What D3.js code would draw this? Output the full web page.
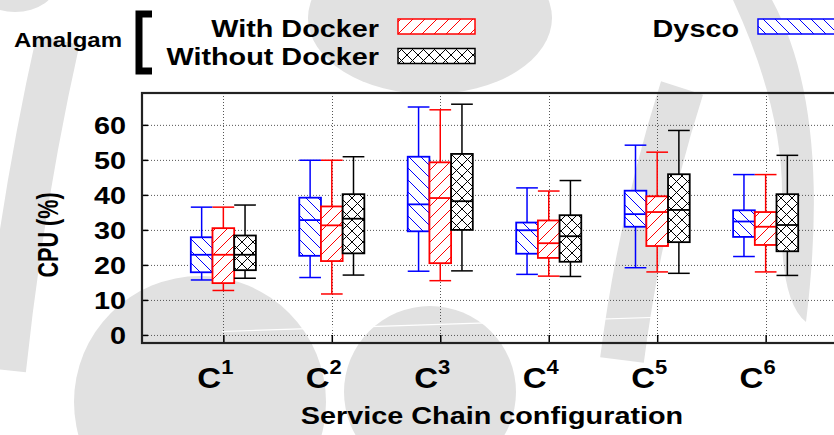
<!DOCTYPE html>
<html>
<head>
<meta charset="utf-8">
<script src="https://cdn.jsdelivr.net/npm/d3@7"></script>
<style>
  body { margin: 0; background: #fff; }
  text { font-family: "Liberation Sans", Arial, sans-serif; font-weight: bold; fill: #000; }
</style>
</head>
<body>
<div class="chart"></div>
<script>
// chart data
var configs = ["1", "2", "3", "4", "5", "6"];
var yTicks = [0, 10, 20, 30, 40, 50, 60];

// [min, q1, median, q3, max] for each configuration
var dyscoStats = [
  [15.7, 17.9, 22.9, 27.9, 36.5],
  [16.4, 22.6, 32.8, 39.2, 49.9],
  [18.2, 29.6, 37.3, 50.9, 65.1],
  [17.3, 23.2, 29.9, 32.1, 42.0],
  [19.2, 30.9, 34.5, 41.2, 54.2],
  [22.4, 28.0, 32.4, 35.6, 45.8]
];
var withDockerStats = [
  [12.7, 14.8, 22.9, 30.5, 36.5],
  [11.7, 21.1, 31.3, 36.7, 49.9],
  [15.5, 20.5, 39.1, 49.3, 64.3],
  [16.8, 22.0, 26.2, 32.7, 41.1],
  [18.0, 25.4, 35.1, 39.6, 52.2],
  [18.0, 25.7, 30.9, 35.1, 45.8]
];
var withoutDockerStats = [
  [16.2, 18.5, 22.9, 28.4, 37.1],
  [17.1, 23.3, 33.2, 40.2, 50.9],
  [18.3, 30.0, 38.2, 51.7, 65.9],
  [16.7, 20.9, 28.2, 34.2, 44.1],
  [17.6, 26.5, 35.7, 45.9, 58.4],
  [17.0, 23.9, 31.4, 40.2, 51.3]
];

var svgWidth = 834;
var svgHeight = 435;

// plot frame (right edge runs past the picture)
var plot = { left: 142, top: 93, right: 847, bottom: 343 };

var svg = d3.select(".chart")
  .append("svg")
    .attr("width", svgWidth)
    .attr("height", svgHeight);

// hatch patterns
var defs = svg.append("defs");

function hatch(id, color, kind, size) {
  var p = defs.append("pattern")
    .attr("id", id)
    .attr("patternUnits", "userSpaceOnUse")
    .attr("width", size)
    .attr("height", size);
  p.append("rect").attr("width", size).attr("height", size).attr("fill", "#fff");
  var s = size;
  var d = "";
  if (kind === "back" || kind === "cross") {
    d += "M0,0L" + s + "," + s + "M" + (-s / 2) + "," + (s / 2) + "L" + (s / 2) + "," + (s * 1.5) +
         "M" + (s / 2) + "," + (-s / 2) + "L" + (s * 1.5) + "," + (s / 2);
  }
  if (kind === "fwd" || kind === "cross") {
    d += "M0," + s + "L" + s + ",0M" + (-s / 2) + "," + (s / 2) + "L" + (s / 2) + "," + (-s / 2) +
         "M" + (s / 2) + "," + (s * 1.5) + "L" + (s * 1.5) + "," + (s / 2);
  }
  p.append("path").attr("d", d).attr("stroke", color).attr("stroke-width", 1).attr("fill", "none");
}
hatch("hatchBlue", "#0000ff", "back", 12);
hatch("hatchRed", "#ff0000", "fwd", 12);
hatch("hatchBlack", "#000", "cross", 11);

// faint grey watermark of the scanned page
var wmGrey = "#e1e1e1";
var wm = svg.append("g");
wm.append("ellipse").attr("cx", 15).attr("cy", -18).attr("rx", 42).attr("ry", 30).attr("fill", wmGrey);
wm.append("path").attr("d", "M58,40 Q22,200 4,370").attr("fill", "none")
  .attr("stroke", wmGrey).attr("stroke-width", 44);
wm.append("circle").attr("cx", 200).attr("cy", 402).attr("r", 126).attr("fill", wmGrey);
wm.append("ellipse").attr("cx", 430).attr("cy", 18).attr("rx", 122).attr("ry", 76).attr("fill", wmGrey);
wm.append("circle").attr("cx", 430).attr("cy", 392).attr("r", 86).attr("fill", wmGrey);
wm.append("path").attr("d", "M682,88 Q640,220 622,360").attr("fill", "none")
  .attr("stroke", wmGrey).attr("stroke-width", 44);
wm.append("path").attr("d", "M733,0 L772,0 Q832,110 806,322 Q778,300 782,200 Q784,110 733,0 Z")
  .attr("fill", wmGrey);

// scales
var xScale = d3.scaleLinear().domain([0.25, 6.75]).range([plot.left, plot.right]);
var yScale = d3.scaleLinear().domain([-2.3, 69.1]).range([plot.bottom, plot.top]);

// grid
var grid = svg.append("g").attr("stroke", "#555").attr("stroke-width", 1).attr("stroke-dasharray", "1,2");
grid.selectAll(".hgrid")
  .data(yTicks)
  .enter().append("line")
    .attr("x1", plot.left).attr("x2", plot.right)
    .attr("y1", function(d) { return yScale(d) + 0.5; })
    .attr("y2", function(d) { return yScale(d) + 0.5; });
grid.selectAll(".vgrid")
  .data(configs)
  .enter().append("line")
    .attr("x1", function(d, i) { return Math.round(xScale(i + 1)) + 0.5; })
    .attr("x2", function(d, i) { return Math.round(xScale(i + 1)) + 0.5; })
    .attr("y1", plot.top).attr("y2", plot.bottom);

// white streak of the scan
svg.append("line")
  .attr("x1", 222).attr("y1", 331.5).attr("x2", 727).attr("y2", 315)
  .attr("stroke", "#fff").attr("stroke-width", 1.2);

// axes drawn with d3, ticks pointing inward
var leftAxis = d3.axisLeft(yScale).tickValues(yTicks).tickSize(-6).tickFormat("");
var bottomAxis = d3.axisBottom(xScale).tickValues([1, 2, 3, 4, 5, 6]).tickSize(-8).tickFormat("");

svg.append("g")
  .attr("transform", "translate(" + plot.left + ",0)")
  .call(leftAxis)
  .call(function(g) { g.select(".domain").remove(); g.selectAll("line").attr("stroke", "#000").attr("stroke-width", 1.5); });
svg.append("g")
  .attr("transform", "translate(0," + plot.bottom + ")")
  .call(bottomAxis)
  .call(function(g) { g.select(".domain").remove(); g.selectAll("line").attr("stroke", "#000").attr("stroke-width", 1.5); });

// boxes
var boxWidth = 0.2;
var series = [
  { stats: dyscoStats, offset: -0.2, color: "#0000ff", fill: "url(#hatchBlue)" },
  { stats: withDockerStats, offset: 0, color: "#ff0000", fill: "url(#hatchRed)" },
  { stats: withoutDockerStats, offset: 0.2, color: "#000", fill: "url(#hatchBlack)" }
];

series.forEach(function(s) {
  var g = svg.append("g");
  var boxes = g.selectAll("g")
    .data(s.stats)
    .enter().append("g");

  boxes.each(function(d, i) {
    var sel = d3.select(this);
    var cx = i + 1 + s.offset;
    var x0 = xScale(cx - boxWidth / 2);
    var x1 = xScale(cx + boxWidth / 2);
    var xm = xScale(cx);
    // whiskers
    sel.append("line").attr("x1", xm).attr("x2", xm).attr("y1", yScale(d[0])).attr("y2", yScale(d[1]))
      .attr("stroke", s.color).attr("stroke-width", 1.5);
    sel.append("line").attr("x1", xm).attr("x2", xm).attr("y1", yScale(d[3])).attr("y2", yScale(d[4]))
      .attr("stroke", s.color).attr("stroke-width", 1.5);
    sel.append("line").attr("x1", x0).attr("x2", x1).attr("y1", yScale(d[0])).attr("y2", yScale(d[0]))
      .attr("stroke", s.color).attr("stroke-width", 1.5);
    sel.append("line").attr("x1", x0).attr("x2", x1).attr("y1", yScale(d[4])).attr("y2", yScale(d[4]))
      .attr("stroke", s.color).attr("stroke-width", 1.5);
    // box
    sel.append("rect")
      .attr("x", x0).attr("y", yScale(d[3]))
      .attr("width", x1 - x0).attr("height", yScale(d[1]) - yScale(d[3]))
      .attr("fill", s.fill).attr("stroke", s.color).attr("stroke-width", 1.8);
    // median
    sel.append("line").attr("x1", x0).attr("x2", x1).attr("y1", yScale(d[2])).attr("y2", yScale(d[2]))
      .attr("stroke", s.color).attr("stroke-width", 1.8);
  });
});

// frame
svg.append("rect")
  .attr("x", plot.left).attr("y", plot.top)
  .attr("width", plot.right - plot.left).attr("height", plot.bottom - plot.top)
  .attr("fill", "none").attr("stroke", "#222").attr("stroke-width", 2.2);

// text helper: the picture is stretched sideways
function label(x, y, str, size, anchor) {
  return svg.append("text")
    .attr("transform", "translate(" + x + "," + y + ") scale(1.2,1)")
    .attr("text-anchor", anchor || "start")
    .attr("font-size", size)
    .text(str);
}

// y tick labels
yTicks.forEach(function(t) {
  label(126, yScale(t) + 9, t, 24, "end");
});

// x tick labels: C with superscript
configs.forEach(function(c, i) {
  var t = svg.append("text")
    .attr("transform", "translate(" + (xScale(i + 1) - 8) + ",388) scale(1.1,1)")
    .attr("text-anchor", "middle")
    .attr("font-size", 30);
  t.append("tspan").text("C");
  t.append("tspan").attr("font-size", 20).attr("dy", -14).text(c);
});

// axis titles
label(492, 424, "Service Chain configuration", 24, "middle");
svg.append("text")
  .attr("transform", "translate(58,235) rotate(-90) scale(0.9,1.25)")
  .attr("text-anchor", "middle")
  .attr("font-size", 24)
  .text("CPU (%)");

// legend
label(14, 47, "Amalgam", 20, "start");
svg.append("path")
  .attr("d", "M152,14H139V71H152")
  .attr("fill", "none").attr("stroke", "#000").attr("stroke-width", 7);
label(379, 37, "With Docker", 24, "end");
label(379, 65, "Without Docker", 24, "end");
label(739, 37, "Dysco", 24, "end");

svg.append("rect").attr("x", 398).attr("y", 19).attr("width", 77).attr("height", 15)
  .attr("fill", "url(#hatchRed)").attr("stroke", "#ff0000").attr("stroke-width", 1.5);
svg.append("rect").attr("x", 398).attr("y", 48.5).attr("width", 77).attr("height", 15)
  .attr("fill", "url(#hatchBlack)").attr("stroke", "#000").attr("stroke-width", 1.5);
svg.append("rect").attr("x", 758).attr("y", 19).attr("width", 90).attr("height", 15)
  .attr("fill", "url(#hatchBlue)").attr("stroke", "#0000ff").attr("stroke-width", 1.5);
</script>
</body>
</html>
